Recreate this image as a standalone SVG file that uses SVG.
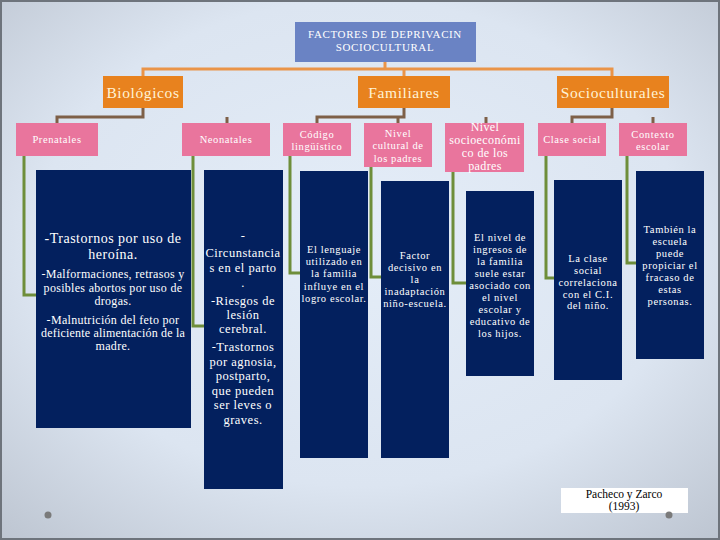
<svg xmlns="http://www.w3.org/2000/svg" width="720" height="540" viewBox="0 0 720 540">
<defs>
<radialGradient id="bg" cx="0.5" cy="0.45" r="0.75">
<stop offset="0" stop-color="#E4EDF8"/>
<stop offset="0.6" stop-color="#DCE5F1"/>
<stop offset="1" stop-color="#BCC4D0"/>
</radialGradient>
<style>
.title{fill:#6A83C4}
.cat{fill:#E8821E}
.pink{fill:#E9759D}
.navy{fill:#03205E}
.t{font-family:"Liberation Serif","DejaVu Serif",serif;text-anchor:middle;fill:#FFFFFF}
.tc{font-size:15.5px;fill:#FFF3D6;letter-spacing:0.6px}
.tp{font-size:10.5px;letter-spacing:0.6px}
.s{font-size:10.5px;letter-spacing:0.6px}
.n{font-size:12.5px;letter-spacing:0.5px}
.orange{fill:none;stroke:#EA9448;stroke-width:3}
.brown{fill:none;stroke:#7E6048;stroke-width:3}
.green{fill:none;stroke:#6E8E3A;stroke-width:3}
</style>
</defs>
<rect x="0" y="0" width="720" height="540" fill="url(#bg)"/>
<rect x="1" y="1" width="718" height="538" fill="none" stroke="#6E747C" stroke-width="2"/>

<g id="connectors">
<path class="orange" d="M385,62 V69 M143,77 V69 H612 V77 M404,69 V77"/>
<path class="brown" d="M143,108 V117 H57 V124 M227,117 V124"/>
<path class="brown" d="M404,108 V117 H317 V124 M398,117 V124 M486,117 V124"/>
<path class="brown" d="M612,108 V117 H572 V124 M653,117 V124"/>
<path class="green" d="M24,156 V295 H37"/>
<path class="green" d="M193,156 V326 H205"/>
<path class="green" d="M290,156 V273 H301"/>
<path class="green" d="M371,167 V277 H382"/>
<path class="green" d="M453,172 V283 H467"/>
<path class="green" d="M546,156 V278 H555"/>
<path class="green" d="M627,156 V263 H637"/>
</g>

<g id="title">
<rect class="title" x="295" y="22" width="181" height="40"/>
<text class="t" x="385" y="38" font-size="11" letter-spacing="0.6">FACTORES DE DEPRIVACIN</text>
<text class="t" x="385" y="51" font-size="11" letter-spacing="0.6">SOCIOCULTURAL</text>
</g>

<g id="biologicos">
<rect class="cat" x="103" y="76" width="80" height="32"/>
<text class="t tc" x="143" y="98">Biológicos</text>
</g>
<g id="familiares">
<rect class="cat" x="358" y="76" width="92" height="32"/>
<text class="t tc" x="404" y="98">Familiares</text>
</g>
<g id="socioculturales">
<rect class="cat" x="557" y="76" width="112" height="32"/>
<text class="t tc" x="613" y="98">Socioculturales</text>
</g>

<g id="prenatales">
<rect class="pink" x="16" y="123" width="82" height="33"/>
<text class="t tp" x="57" y="143">Prenatales</text>
</g>
<g id="neonatales">
<rect class="pink" x="182" y="123" width="88" height="33"/>
<text class="t tp" x="226" y="143">Neonatales</text>
</g>
<g id="codigo">
<rect class="pink" x="283" y="123" width="68" height="33"/>
<text class="t tp" x="317" y="138">Código</text>
<text class="t tp" x="317" y="150">lingüístico</text>
</g>
<g id="nivel-cultural">
<rect class="pink" x="364" y="123" width="68" height="44"/>
<text class="t tp" x="398" y="137">Nivel</text>
<text class="t tp" x="398" y="149">cultural de</text>
<text class="t tp" x="398" y="162">los padres</text>
</g>
<g id="nivel-socioeconomico">
<rect class="pink" x="445" y="123" width="79" height="49"/>
<text class="t" x="485" y="131" font-size="12" letter-spacing="0.4">Nivel</text>
<text class="t" x="485" y="144" font-size="12" letter-spacing="0.4">socioeconómi</text>
<text class="t" x="485" y="157" font-size="12" letter-spacing="0.4">co de los</text>
<text class="t" x="485" y="170" font-size="12" letter-spacing="0.4">padres</text>
</g>
<g id="clase-social">
<rect class="pink" x="538" y="123" width="68" height="33"/>
<text class="t tp" x="572" y="143" letter-spacing="0.3">Clase social</text>
</g>
<g id="contexto-escolar">
<rect class="pink" x="619" y="123" width="68" height="33"/>
<text class="t tp" x="653" y="138">Contexto</text>
<text class="t tp" x="653" y="150">escolar</text>
</g>

<g id="prenatales-detalle">
<rect class="navy" x="36" y="170" width="155" height="258"/>
<text class="t" x="113" y="243" font-size="14" letter-spacing="0.5">-Trastornos por uso de</text>
<text class="t" x="113" y="259" font-size="14" letter-spacing="0.5">heroína.</text>
<text class="t" x="113" y="278" font-size="12" letter-spacing="0.3">-Malformaciones, retrasos y</text>
<text class="t" x="113" y="292" font-size="12" letter-spacing="0.3">posibles  abortos por uso de</text>
<text class="t" x="113" y="305" font-size="12" letter-spacing="0.3">drogas.</text>
<text class="t" x="113" y="324" font-size="12" letter-spacing="0.3">-Malnutrición del feto por</text>
<text class="t" x="113" y="337" font-size="12" letter-spacing="0.2">deficiente alimentación de la</text>
<text class="t" x="113" y="350" font-size="12" letter-spacing="0.3">madre.</text>
</g>

<g id="neonatales-detalle">
<rect class="navy" x="204" y="170" width="79" height="319"/>
<text class="t n" x="243" y="240">-</text>
<text class="t n" x="243" y="257">Circunstancia</text>
<text class="t n" x="243" y="272">s en el  parto</text>
<text class="t n" x="243" y="287">.</text>
<text class="t n" x="243" y="305">-Riesgos de</text>
<text class="t n" x="243" y="319">lesión</text>
<text class="t n" x="243" y="333">cerebral.</text>
<text class="t n" x="243" y="351">-Trastornos</text>
<text class="t n" x="243" y="366">por agnosia,</text>
<text class="t n" x="243" y="380">postparto,</text>
<text class="t n" x="243" y="395">que pueden</text>
<text class="t n" x="243" y="409">ser leves o</text>
<text class="t n" x="243" y="424">graves.</text>
</g>

<g id="codigo-detalle">
<rect class="navy" x="300" y="171" width="68" height="287"/>
<text class="t s" x="334" y="253">El lenguaje</text>
<text class="t s" x="334" y="265">utilizado en</text>
<text class="t s" x="334" y="277">la familia</text>
<text class="t s" x="334" y="290">influye en el</text>
<text class="t s" x="334" y="302" letter-spacing="0.3">logro escolar.</text>
</g>

<g id="nivel-cultural-detalle">
<rect class="navy" x="381" y="181" width="68" height="277"/>
<text class="t s" x="415" y="259">Factor</text>
<text class="t s" x="415" y="271">decisivo en</text>
<text class="t s" x="415" y="283">la</text>
<text class="t s" x="415" y="295">inadaptación</text>
<text class="t s" x="415" y="307" letter-spacing="0.3">niño-escuela.</text>
</g>

<g id="nivel-socioeconomico-detalle">
<rect class="navy" x="466" y="191" width="68" height="185"/>
<text class="t s" x="500" y="241">El nivel de</text>
<text class="t s" x="500" y="253">ingresos de</text>
<text class="t s" x="500" y="265">la familia</text>
<text class="t s" x="500" y="277">suele estar</text>
<text class="t s" x="500" y="289" letter-spacing="0.3">asociado con</text>
<text class="t s" x="500" y="301">el nivel</text>
<text class="t s" x="500" y="313">escolar y</text>
<text class="t s" x="500" y="325" letter-spacing="0.3">educativo de</text>
<text class="t s" x="500" y="337">los hijos.</text>
</g>

<g id="clase-social-detalle">
<rect class="navy" x="554" y="180" width="68" height="200"/>
<text class="t s" x="588" y="262">La clase</text>
<text class="t s" x="588" y="274">social</text>
<text class="t s" x="588" y="286" letter-spacing="0.3">correlaciona</text>
<text class="t s" x="588" y="298">con el C.I.</text>
<text class="t s" x="588" y="309">del niño.</text>
</g>

<g id="contexto-escolar-detalle">
<rect class="navy" x="636" y="171" width="68" height="188"/>
<text class="t s" x="670" y="233">También la</text>
<text class="t s" x="670" y="245">escuela</text>
<text class="t s" x="670" y="257">puede</text>
<text class="t s" x="670" y="269">propiciar el</text>
<text class="t s" x="670" y="281">fracaso de</text>
<text class="t s" x="670" y="293">estas</text>
<text class="t s" x="670" y="305">personas.</text>
</g>

<g id="fuente">
<rect x="561" y="488" width="127" height="25" fill="#FFFFFF"/>
<text x="624" y="498" font-family="'Liberation Serif',serif" font-size="11.5" text-anchor="middle" fill="#000000">Pacheco y Zarco</text>
<text x="624" y="510" font-family="'Liberation Serif',serif" font-size="11.5" text-anchor="middle" fill="#000000">(1993)</text>
</g>

<circle cx="48" cy="515" r="3.5" fill="#7A7A7A"/>
<circle cx="669" cy="515" r="3.5" fill="#7A7A7A"/>
</svg>
